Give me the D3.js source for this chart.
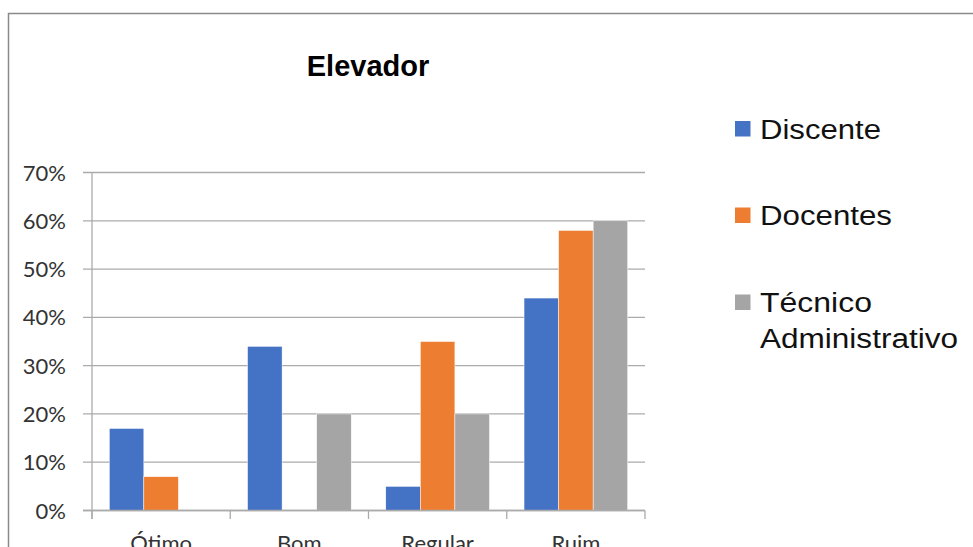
<!DOCTYPE html>
<html>
<head>
<meta charset="utf-8">
<script src="https://cdn.jsdelivr.net/npm/d3@7"></script>
<style>
  body { margin: 0; background: #fff; }
</style>
</head>
<body>
<div id="chart"></div>
<script>
// chart data
let categories = ["Ótimo", "Bom", "Regular", "Ruim"];
let seriesNames = ["Discente", "Docentes", "Técnico Administrativo"];
let discente = [0.17, 0.34, 0.05, 0.44];
let docentes = [0.07, 0, 0.35, 0.58];
let tecnico = [0, 0.20, 0.20, 0.60];
let yTicks = [0, 0.1, 0.2, 0.3, 0.4, 0.5, 0.6, 0.7];
let colors = ["#4472C4", "#ED7D31", "#A5A5A5"];

let allSeries = [discente, docentes, tecnico];

let svg = d3.select("#chart").append("svg")
  .attr("width", 973)
  .attr("height", 547);

// outer chart border (cut off at right and bottom)
svg.append("rect")
  .attr("x", 8.5).attr("y", 13.5)
  .attr("width", 1000).attr("height", 600)
  .style("fill", "none")
  .style("stroke", "#8a8a8a")
  .style("stroke-width", 1.5);

svg.append("text")
  .attr("x", 368).attr("y", 75.5)
  .attr("text-anchor", "middle")
  .style("font-family", "'Liberation Sans', Arial, sans-serif")
  .style("font-weight", "bold")
  .style("font-size", "29px")
  .text("Elevador");

let x = d3.scaleBand()
  .domain(categories)
  .range([92, 645])
  .paddingInner(0)
  .paddingOuter(0);

let y = d3.scaleLinear()
  .domain([0, 0.7])
  .range([510.5, 172.5]);

let sub = d3.scaleBand()
  .domain(d3.range(seriesNames.length))
  .range([0, x.bandwidth()])
  .paddingInner(0)
  .paddingOuter(0.5);

// gridlines
svg.append("g").selectAll("line")
  .data(yTicks)
  .enter()
  .append("line")
  .attr("x1", 83).attr("x2", 645)
  .attr("y1", d => y(d)).attr("y2", d => y(d))
  .style("stroke", "#ababab")
  .style("stroke-width", 1.3);

// y labels
svg.append("g").selectAll("text")
  .data(yTicks)
  .enter()
  .append("text")
  .attr("x", 66)
  .attr("y", d => y(d) + 8)
  .attr("text-anchor", "end")
  .style("font-family", "Lato, sans-serif")
  .style("font-size", "22px")
  .style("fill", "#333")
  .text(d3.format(".0%"));

// bars
let groups = svg.append("g").selectAll("g")
  .data(allSeries)
  .enter()
  .append("g")
  .style("fill", (d, i) => colors[i]);

groups.each(function(vals, si) {
  d3.select(this).selectAll("rect")
    .data(vals)
    .enter()
    .append("rect")
    .attr("x", (d, i) => x(categories[i]) + sub(si))
    .attr("width", sub.bandwidth())
    .attr("y", d => y(d))
    .attr("height", d => y(0) - y(d))
    .style("stroke", "#fff")
    .style("stroke-width", 0.5);
});

// axes lines
svg.append("line")
  .attr("x1", 92).attr("x2", 92)
  .attr("y1", 172.5).attr("y2", 519)
  .style("stroke", "#ababab").style("stroke-width", 1.3);

svg.append("line")
  .attr("x1", 83).attr("x2", 645)
  .attr("y1", y(0)).attr("y2", y(0))
  .style("stroke", "#ababab").style("stroke-width", 1.3);

let catTicks = categories.map(c => x(c)).concat([645]);
svg.append("g").selectAll("line")
  .data(catTicks)
  .enter()
  .append("line")
  .attr("x1", d => d).attr("x2", d => d)
  .attr("y1", y(0)).attr("y2", 519)
  .style("stroke", "#ababab").style("stroke-width", 1.3);

// category labels sit partly below the picture edge, as in the original
svg.append("g").selectAll("text")
  .data(categories)
  .enter()
  .append("text")
  .attr("x", d => x(d) + x.bandwidth() / 2)
  .attr("y", 551)
  .attr("text-anchor", "middle")
  .style("font-family", "Lato, sans-serif")
  .style("font-size", "22px")
  .style("fill", "#333")
  .text(d => d);

// legend
let legendY = [138.5, 225, 312];
let legend = svg.append("g").selectAll("g")
  .data(seriesNames)
  .enter()
  .append("g");

legend.append("rect")
  .attr("x", 735)
  .attr("y", (d, i) => legendY[i] - 17.5)
  .attr("width", 15.5)
  .attr("height", 15.5)
  .style("fill", (d, i) => colors[i]);

let legendText = legend.append("text")
  .attr("x", 760)
  .attr("y", (d, i) => legendY[i])
  .style("font-family", "'Liberation Sans', Arial, sans-serif")
  .style("font-size", "27px")
  .style("fill", "#111");

let legendLines = [["Discente"], ["Docentes"], ["Técnico", "Administrativo"]];
let lineWidths = [[121], [132], [112, 198]];

legendText.each(function(d, i) {
  let t = d3.select(this);
  legendLines[i].forEach((ln, j) => {
    t.append("tspan")
      .attr("x", 760)
      .attr("dy", j === 0 ? 0 : 36)
      .attr("textLength", lineWidths[i][j])
      .attr("lengthAdjust", "spacingAndGlyphs")
      .text(ln);
  });
});
</script>
</body>
</html>
